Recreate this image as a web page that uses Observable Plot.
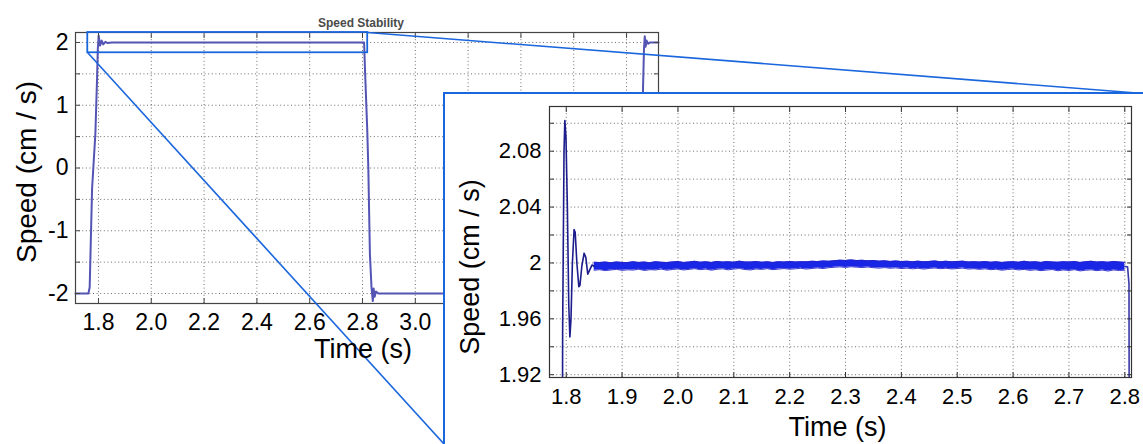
<!DOCTYPE html>
<html>
<head>
<meta charset="utf-8">
<script src="https://cdn.jsdelivr.net/npm/d3@7"></script>
<script src="https://cdn.jsdelivr.net/npm/@observablehq/plot@0.6"></script>
<style>
  html, body { margin: 0; padding: 0; background: #fff; }
  #wrap { position: relative; width: 1143px; height: 444px; overflow: hidden; background: #fff; }
  #main { position: absolute; left: 0; top: 0; }
  #inset { position: absolute; left: 443px; top: 92px; width: 698px; height: 352px;
           background: #fff; border-left: 2px solid #1a66dd; border-top: 2px solid #1a66dd; }
  svg { overflow: visible; }
</style>
</head>
<body>
<div id="wrap"><div id="main"></div><div id="inset"></div></div>
<script>
// ---------- Main chart data (speed vs time, square-wave response) ----------
const mainTime  = [1.713, 1.762, 1.7667, 1.7758, 1.7883, 1.7947, 1.7975, 1.8008, 1.806, 1.812, 1.818, 1.826, 1.835, 1.85,
                   2.806, 2.810, 2.818, 2.822, 2.828, 2.834, 2.839, 2.842, 2.846, 2.851, 2.86,
                   3.857, 3.862, 3.866, 3.869, 3.872, 3.876, 3.882, 3.89, 3.921];
const mainSpeed = [-2.0, -2.0, -1.9, -0.33, 0.55, 1.43, 1.9, 2.11, 1.95, 2.03, 1.97, 2.01, 1.99, 2.0,
                   2.0, 1.5, 0.6, 0.0, -1.37, -1.9, -2.12, -1.92, -2.05, -1.97, -2.0,
                   -2.0, 1.2, 1.9, 2.1, 1.93, 2.03, 1.98, 2.0, 2.0];
const mainXTicks = [1.8, 2.0, 2.2, 2.4, 2.6, 2.8, 3.0, 3.2, 3.4, 3.6, 3.8];
const mainXLabels = [1.8, 2.0, 2.2, 2.4, 2.6, 2.8, 3.0]; // the rest sit under the inset
const mainYTicks = [-2, -1.5, -1, -0.5, 0, 0.5, 1, 1.5, 2];
const mainYLabels = [-2, -1, 0, 1, 2];

// zoom rectangle (data units of main chart) and connector lines to inset corners
const zoomBox = [{x1: 1.7595, x2: 2.8197, y1: 1.836, y2: 2.159}];
const zoomLinks = [
  {x1: 2.8197, y1: 2.159, x2: 5.758, y2: 1.187},
  {x1: 1.7595, y1: 1.836, x2: 3.1106, y2: -4.406}
];

// ---------- Inset (zoomed) data ----------
const transientTime  = [1.7925, 1.7935, 1.7960, 1.7975, 1.7995, 1.8020, 1.8045, 1.8065, 1.8085, 1.8110, 1.8140, 1.8160,
                        1.8190, 1.8225, 1.8245, 1.8280, 1.8320, 1.8350, 1.8385, 1.8420, 1.8460, 1.8500];
const transientSpeed = [1.70, 1.95, 2.08, 2.102, 2.09, 2.04, 1.97, 1.947, 1.96, 2.00, 2.024, 2.022,
                        2.00, 1.983, 1.984, 1.998, 2.007, 2.004, 1.992, 1.995, 1.9985, 1.9977];
const dropTime  = [2.800, 2.805, 2.8075, 2.8082];
const dropSpeed = [1.9975, 1.9972, 1.985, 1.80];

const bandTime = [1.85, 1.86, 1.87, 1.88, 1.89, 1.90, 1.91, 1.92, 1.93, 1.94,
  1.95, 1.96, 1.97, 1.98, 1.99, 2.00, 2.01, 2.02, 2.03, 2.04,
  2.05, 2.06, 2.07, 2.08, 2.09, 2.10, 2.11, 2.12, 2.13, 2.14,
  2.15, 2.16, 2.17, 2.18, 2.19, 2.20, 2.21, 2.22, 2.23, 2.24,
  2.25, 2.26, 2.27, 2.28, 2.29, 2.30, 2.31, 2.32, 2.33, 2.34,
  2.35, 2.36, 2.37, 2.38, 2.39, 2.40, 2.41, 2.42, 2.43, 2.44,
  2.45, 2.46, 2.47, 2.48, 2.49, 2.50, 2.51, 2.52, 2.53, 2.54,
  2.55, 2.56, 2.57, 2.58, 2.59, 2.60, 2.61, 2.62, 2.63, 2.64,
  2.65, 2.66, 2.67, 2.68, 2.69, 2.70, 2.71, 2.72, 2.73, 2.74,
  2.75, 2.76, 2.77, 2.78, 2.79, 2.80];
const bandUpper = [2.0005, 2.0003, 2.0006, 2.0002, 2.0007, 2.0004, 2.0003, 2.0008, 2.0004, 2.0006,
  2.0002, 2.0009, 2.0005, 2.0003, 2.0007, 2.0010, 2.0004, 2.0006, 2.0012, 2.0005,
  2.0008, 2.0004, 2.0011, 2.0006, 2.0009, 2.0005, 2.0013, 2.0007, 2.0006, 2.0010,
  2.0005, 2.0008, 2.0004, 2.0009, 2.0006, 2.0011, 2.0007, 2.0009, 2.0008, 2.0012,
  2.0010, 2.0014, 2.0012, 2.0016, 2.0020, 2.0018, 2.0022, 2.0017, 2.0019, 2.0015,
  2.0018, 2.0013, 2.0015, 2.0011, 2.0014, 2.0010, 2.0012, 2.0009, 2.0013, 2.0008,
  2.0011, 2.0014, 2.0009, 2.0012, 2.0008, 2.0010, 2.0013, 2.0007, 2.0009, 2.0006,
  2.0010, 2.0005, 2.0008, 2.0004, 2.0007, 2.0009, 2.0005, 2.0012, 2.0006, 2.0008,
  2.0004, 2.0011, 2.0007, 2.0005, 2.0009, 2.0006, 2.0010, 2.0004, 2.0008, 2.0012,
  2.0006, 2.0009, 2.0005, 2.0011, 2.0007, 2.0004];
const bandLower = [1.9948, 1.9952, 1.9945, 1.9950, 1.9954, 1.9947, 1.9951, 1.9949, 1.9955, 1.9946,
  1.9952, 1.9950, 1.9956, 1.9948, 1.9953, 1.9957, 1.9950, 1.9954, 1.9959, 1.9952,
  1.9956, 1.9948, 1.9955, 1.9958, 1.9951, 1.9956, 1.9960, 1.9953, 1.9950, 1.9957,
  1.9954, 1.9959, 1.9952, 1.9956, 1.9960, 1.9955, 1.9958, 1.9962, 1.9956, 1.9961,
  1.9964, 1.9960, 1.9966, 1.9969, 1.9972, 1.9968, 1.9973, 1.9970, 1.9967, 1.9971,
  1.9966, 1.9963, 1.9967, 1.9962, 1.9965, 1.9960, 1.9963, 1.9958, 1.9962, 1.9956,
  1.9961, 1.9964, 1.9959, 1.9962, 1.9957, 1.9960, 1.9963, 1.9956, 1.9959, 1.9954,
  1.9958, 1.9952, 1.9955, 1.9948, 1.9953, 1.9956, 1.9950, 1.9954, 1.9947, 1.9951,
  1.9945, 1.9949, 1.9953, 1.9944, 1.9950, 1.9946, 1.9952, 1.9943, 1.9948, 1.9951,
  1.9945, 1.9949, 1.9942, 1.9950, 1.9946, 1.9948];
const insetXTicks = [1.8, 1.9, 2.0, 2.1, 2.2, 2.3, 2.4, 2.5, 2.6, 2.7, 2.8];
const insetYTicks = [1.92, 1.94, 1.96, 1.98, 2.0, 2.02, 2.04, 2.06, 2.08, 2.10];
const insetYLabels = [1.92, 1.96, 2.0, 2.04, 2.08];

// ---------- tables built from arrays ----------
const mainData = mainTime.map((t, i) => ({t, v: mainSpeed[i]}));
const transientData = transientTime.map((t, i) => ({t, v: transientSpeed[i]}));
const dropData = dropTime.map((t, i) => ({t, v: dropSpeed[i]}));
const bandData = bandTime.map((t, i) => ({t, lo: bandLower[i], hi: bandUpper[i]}));

const FONT = "'Liberation Sans', Arial, Helvetica, sans-serif";
const gridStyle = {stroke: "#555", strokeOpacity: 0.85, strokeWidth: 1, strokeDasharray: "1,2.6"};
const noText = () => "";
const hasTick = (list, d) => list.some(l => Math.abs(l - d) < 1e-9);

const main = Plot.plot({
  width: 1143, height: 444,
  marginLeft: 75, marginRight: 485, marginTop: 32, marginBottom: 141,
  x: {domain: [1.713, 3.921], label: null},
  y: {domain: [-2.159, 2.159], label: null},
  style: {fontFamily: FONT, background: "transparent", color: "#000", overflow: "visible"},
  marks: [
    Plot.gridX(mainXTicks, gridStyle),
    Plot.gridY(mainYTicks, gridStyle),
    Plot.line(mainData, {x: "t", y: "v", stroke: "#5454b4", strokeWidth: 2}),
    Plot.frame({stroke: "#444", strokeWidth: 1.2}),
    Plot.axisX(mainXTicks, {anchor: "bottom", tickSize: -5, tickPadding: 15, tickFormat: d => hasTick(mainXLabels, d) ? d3.format(".1f")(d) : "", fontSize: 23, label: null, stroke: "#444"}),
    Plot.axisX(mainXTicks, {anchor: "top", tickSize: -5, tickFormat: noText, label: null, stroke: "#444"}),
    Plot.axisY(mainYTicks, {anchor: "left", tickSize: -5, tickPadding: 12, tickFormat: d => hasTick(mainYLabels, d) ? String(d) : "", fontSize: 23, label: null, stroke: "#444"}),
    Plot.axisY(mainYTicks, {anchor: "right", tickSize: -5, tickFormat: noText, label: null, stroke: "#444"}),
    Plot.rect(zoomBox, {x1: "x1", x2: "x2", y1: "y1", y2: "y2", fill: "none", stroke: "#1a66dd", strokeWidth: 1.8}),
    Plot.link(zoomLinks, {x1: "x1", y1: "y1", x2: "x2", y2: "y2", stroke: "#1a66dd", strokeWidth: 1.6}),
    Plot.text(["Speed Stability"], {frameAnchor: "top", dx: -6, dy: -14, fontSize: 12, fontWeight: "bold", fill: "#4a4a4a", letterSpacing: "0.9px"}),
    Plot.text(["Time (s)"], {frameAnchor: "bottom", dx: -4, dy: 54, fontSize: 27}),
    Plot.text(["Speed (cm / s)"], {frameAnchor: "left", textAnchor: "middle", rotate: -90, dx: -48, dy: 4, fontSize: 28})
  ]
});
document.getElementById("main").appendChild(main);

const inset = Plot.plot({
  width: 698, height: 350,
  marginLeft: 104, marginRight: 12, marginTop: 12, marginBottom: 67,
  x: {domain: [1.770, 2.812], label: null},
  y: {domain: [1.918, 2.112], label: null},
  style: {fontFamily: FONT, background: "#fff", color: "#000"},
  marks: [
    Plot.gridX(insetXTicks, gridStyle),
    Plot.gridY(insetYTicks, gridStyle),
    Plot.areaY(bandData, {x: "t", y1: "lo", y2: "hi", fill: "#1a26e6", clip: true}),
    Plot.line(bandData, {x: "t", y: "hi", stroke: "#2424c8", strokeWidth: 0.9, clip: true}),
    Plot.line(bandData, {x: "t", y: "lo", stroke: "#2424c8", strokeWidth: 0.9, clip: true}),
    Plot.line(transientData, {x: "t", y: "v", stroke: "#1c1c8c", strokeWidth: 1.6, clip: true}),
    Plot.line(dropData, {x: "t", y: "v", stroke: "#3a3aa8", strokeWidth: 1.6, clip: true}),
    Plot.frame({stroke: "#333", strokeWidth: 1.2}),
    Plot.axisX(insetXTicks, {anchor: "bottom", tickSize: -5, tickPadding: 16, tickFormat: d3.format(".1f"), fontSize: 22, label: null, stroke: "#333"}),
    Plot.axisX(insetXTicks, {anchor: "top", tickSize: -5, tickFormat: noText, label: null, stroke: "#333"}),
    Plot.axisY(insetYTicks, {anchor: "left", tickSize: -5, tickPadding: 13, tickFormat: d => hasTick(insetYLabels, d) ? d3.format("~g")(d) : "", fontSize: 22, label: null, stroke: "#333"}),
    Plot.axisY(insetYTicks, {anchor: "right", tickSize: -5, tickFormat: noText, label: null, stroke: "#333"}),
    Plot.text(["Time (s)"], {frameAnchor: "bottom", dx: -3, dy: 58, fontSize: 27}),
    Plot.text(["Speed (cm / s)"], {frameAnchor: "left", textAnchor: "middle", rotate: -90, dx: -79, dy: 25, fontSize: 27})
  ]
});
document.getElementById("inset").appendChild(inset);
</script>
</body>
</html>
